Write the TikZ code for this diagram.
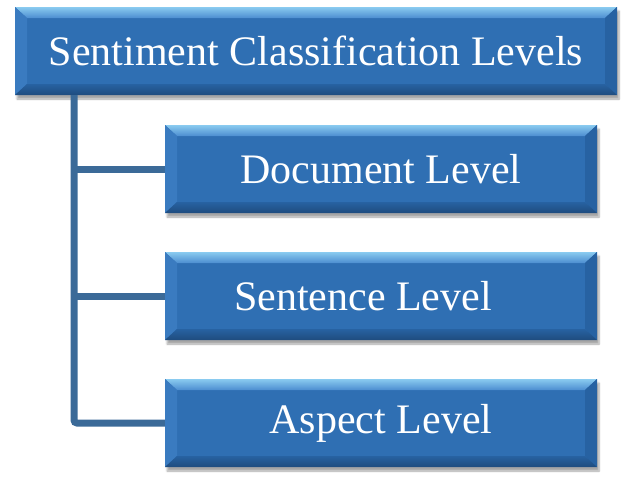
\documentclass[tikz,border=0pt]{standalone}
\usepackage{fontspec}
\setmainfont{Liberation Serif}
\usetikzlibrary{shadows.blur}

\definecolor{boxblue}{HTML}{2F6FB3}
\definecolor{bevtop}{HTML}{8ACBF0}
\definecolor{bevtopin}{HTML}{4C8DD0}
\definecolor{bevleft}{HTML}{3A7BC0}
\definecolor{bevright}{HTML}{2762A2}
\definecolor{bevbot}{HTML}{1F4C7E}
\definecolor{linkblue}{HTML}{3B6A98}

\tikzstyle{level}=[fill=boxblue, inner sep=0pt, text=white,
  minimum width=432pt, minimum height=88pt,
  font=\fontsize{42}{44}\selectfont,
  blur shadow={shadow xshift=2pt, shadow yshift=-4pt, shadow blur steps=6, shadow opacity=35},
  path picture={
    \coordinate (nw) at (path picture bounding box.north west);
    \coordinate (ne) at (path picture bounding box.north east);
    \coordinate (sw) at (path picture bounding box.south west);
    \coordinate (se) at (path picture bounding box.south east);
    \shade[top color=bevtop, bottom color=bevtopin] (nw) -- (ne) -- ([xshift=-12pt,yshift=-11pt]ne) -- ([xshift=12pt,yshift=-11pt]nw) -- cycle;
    \fill[bevleft] (nw) -- ([xshift=12pt,yshift=-11pt]nw) -- ([xshift=12pt,yshift=11pt]sw) -- (sw) -- cycle;
    \fill[bevright] (ne) -- ([xshift=-12pt,yshift=-11pt]ne) -- ([xshift=-12pt,yshift=11pt]se) -- (se) -- cycle;
    \shade[top color=bevright, bottom color=bevbot] ([xshift=12pt,yshift=11pt]sw) -- ([xshift=-12pt,yshift=11pt]se) -- (se) -- (sw) -- cycle;
  }]
\tikzstyle{link}=[linkblue, line width=7pt, rounded corners=3pt]

\begin{document}
\begin{tikzpicture}[x=1pt, y=-1pt]
  \useasboundingbox (0,0) rectangle (629,493);

  \node[level, minimum width=602pt] (root) at (316, 51) {Sentiment Classification Levels};
  \node[level] (doc) at (381, 169) {Document Level};
  \node[level] (sent) at (381, 296) {Sentence Level\hspace*{36pt}};
  \node[level] (aspect) at (381, 423) {Aspect Level};

  \coordinate (trunk) at (74, 95);

  \draw[link] (trunk) |- (aspect.west);
  \draw[link] (trunk |- doc.west) -- (doc.west);
  \draw[link] (trunk |- sent.west) -- (sent.west);
\end{tikzpicture}
\end{document}
